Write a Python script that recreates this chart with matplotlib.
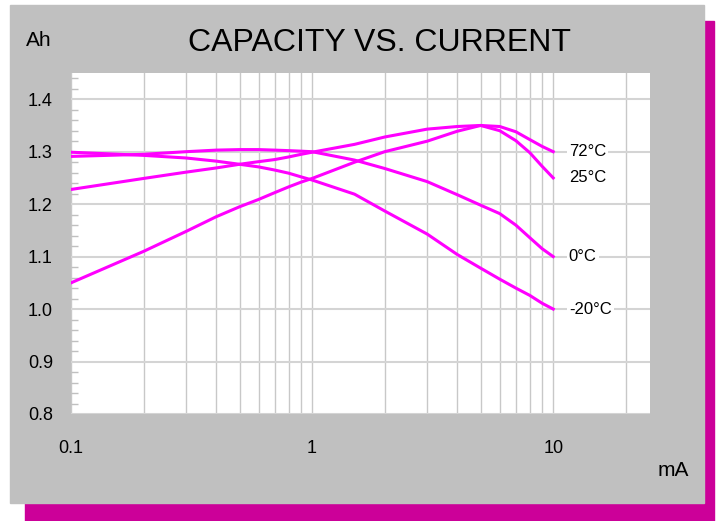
import numpy as np
import matplotlib
matplotlib.use("Agg")
import matplotlib.pyplot as plt
from matplotlib.patches import Rectangle
from matplotlib.ticker import FixedLocator, NullFormatter

plt.rcParams['font.family'] = ['Liberation Sans', 'DejaVu Sans']

# discharge current (mA) and capacity (Ah)
current = [0.1, 0.2, 0.3, 0.4, 0.5, 0.6, 0.7, 0.8, 0.9, 1.0, 1.5,
           2, 3, 4, 5, 6, 7, 8, 9, 10]
cap_72 = [1.228, 1.249, 1.261, 1.269, 1.276, 1.281, 1.285, 1.290, 1.295, 1.299, 1.314,
          1.328, 1.343, 1.348, 1.350, 1.348, 1.338, 1.323, 1.310, 1.300]
cap_25 = [1.050, 1.110, 1.148, 1.176, 1.195, 1.209, 1.222, 1.233, 1.242, 1.249, 1.280,
          1.300, 1.320, 1.339, 1.350, 1.340, 1.321, 1.298, 1.272, 1.250]
cap_0 = [1.291, 1.295, 1.300, 1.303, 1.304, 1.304, 1.303, 1.302, 1.301, 1.300, 1.284,
         1.268, 1.243, 1.218, 1.198, 1.182, 1.160, 1.136, 1.115, 1.100]
cap_m20 = [1.299, 1.293, 1.288, 1.282, 1.276, 1.271, 1.265, 1.259, 1.252, 1.246, 1.219,
           1.187, 1.143, 1.104, 1.078, 1.057, 1.040, 1.026, 1.011, 1.000]
series = [("72°C", cap_72), ("25°C", cap_25), ("0°C", cap_0), ("-20°C", cap_m20)]

W, H = 719, 521
fig = plt.figure(figsize=(W / 100, H / 100), dpi=100)
fig.patch.set_facecolor("white")

def px_rect(x0, y0, x1, y1, color):
    fig.patches.append(Rectangle((x0 / W, 1 - y1 / H), (x1 - x0) / W, (y1 - y0) / H,
                                 transform=fig.transFigure, color=color, zorder=-5))

px_rect(25, 21, 714, 521, "#cc0099")   # shadow
px_rect(10, 5, 704, 503, "#c0c0c0")    # panel

ax = fig.add_axes([71 / W, 1 - 414 / H, (650 - 71) / W, (414 - 73) / H])
ax.set_facecolor("white")
for s in ax.spines.values():
    s.set_visible(False)

for name, vals in series:
    ax.plot(current, vals, color="#ff00ff", lw=2.2, zorder=3)
    ax.text(11.6, vals[-1], name, fontsize=12, va="center", ha="left", zorder=4,
            bbox=dict(facecolor="white", edgecolor="none", pad=1.5))

ax.set_xscale("log")
ax.set_xlim(0.1, 25.2)
ax.set_ylim(0.8, 1.45)

ax.xaxis.set_major_locator(FixedLocator([0.1, 1, 10]))
ax.set_xticklabels(["0.1", "1", "10"])
ax.xaxis.set_minor_locator(FixedLocator([0.2, 0.3, 0.4, 0.5, 0.6, 0.7, 0.8, 0.9,
                                         2, 3, 4, 5, 6, 7, 8, 9, 20]))
ax.xaxis.set_minor_formatter(NullFormatter())
ax.set_yticks([0.8, 0.9, 1.0, 1.1, 1.2, 1.3, 1.4])
ax.set_yticklabels(["0.8", "0.9", "1.0", "1.1", "1.2", "1.3", "1.4"])
ax.yaxis.set_minor_locator(FixedLocator(np.arange(0.82, 1.45, 0.02)))

ax.tick_params(axis="x", which="both", length=0, labelsize=13, pad=19)
ax.tick_params(axis="y", which="major", length=0, labelsize=13, pad=13)
ax.tick_params(axis="y", which="minor", direction="in", length=5, color="#c0c0c0", width=1)

ax.grid(True, axis="x", which="both", color="#c8c8c8", lw=1, zorder=1)
ax.grid(True, axis="y", which="major", color="#d4d4d4", lw=1.5, zorder=1)

fig.text(379 / W, 1 - 43 / H, "CAPACITY VS. CURRENT", fontsize=23, ha="center", va="center")
fig.text(39 / W, 1 - 40 / H, "Ah", fontsize=15, ha="center", va="center")
fig.text(673 / W, 1 - 470 / H, "mA", fontsize=15, ha="center", va="center")

fig.savefig("out.png", dpi=100)
